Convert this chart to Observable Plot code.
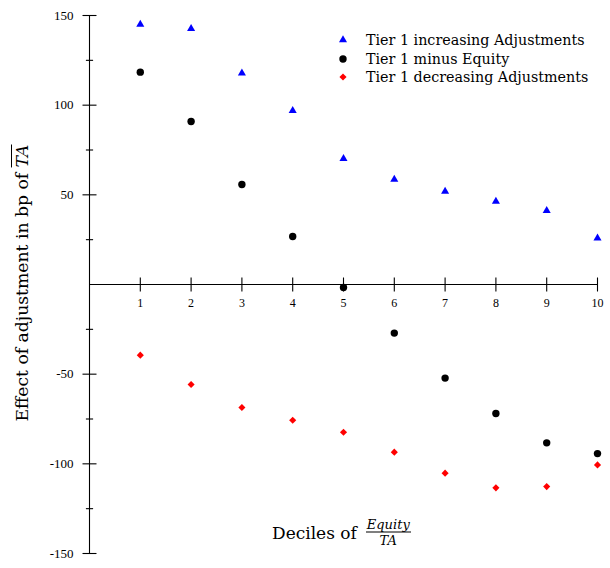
<!DOCTYPE html>
<html><head><meta charset="utf-8">
<script src="https://cdn.jsdelivr.net/npm/d3@7"></script>
<script src="https://cdn.jsdelivr.net/npm/@observablehq/plot@0.6"></script>
<style>
body{margin:0;background:#fff;font-family:"Liberation Serif",serif;color:#000}
#wrap{position:relative;width:610px;height:568px;overflow:hidden}
#wrap svg.plot{position:absolute;left:0;top:0}
.legend{position:absolute;left:335px;top:31px;font-family:"DejaVu Serif",serif;font-size:14.3px;line-height:18.5px}
.legend .row{display:flex;align-items:center;height:18.5px}
.legend svg{width:16px;height:16px;margin-right:15px}
.ylab{position:absolute;left:22px;top:283px;transform:translate(-50%,-50%) rotate(-90deg);white-space:nowrap;font-family:"DejaVu Serif",serif;font-size:17.2px}
.ylab .ov{font-style:italic;text-decoration:overline}
.xlab{position:absolute;left:272px;top:532px;transform:translateY(-50%);display:flex;align-items:center;font-family:"DejaVu Serif",serif;font-size:17px;white-space:nowrap}
.frac{display:inline-flex;flex-direction:column;align-items:center;margin-left:9px;font-style:italic;font-size:13px;line-height:13px}
.frac .num{border-bottom:1px solid #000;padding:0 1px 1px}
.frac .den{padding-top:1px}
</style></head><body><div id="wrap"></div>
<script>
const deciles = [1, 2, 3, 4, 5, 6, 7, 8, 9, 10];
const tier1Increasing = [145.0, 142.6, 117.8, 97.0, 70.1, 58.6, 51.9, 46.3, 41.2, 25.8];
const tier1MinusEquity = [118.4, 90.9, 55.8, 26.8, -1.7, -27.1, -52.2, -71.9, -88.3, -94.3];
const tier1Decreasing = [-39.4, -55.8, -68.6, -75.7, -82.4, -93.5, -105.2, -113.4, -112.7, -100.6];
const seriesNames = ["Tier 1 increasing Adjustments", "Tier 1 minus Equity", "Tier 1 decreasing Adjustments"];
const seriesColors = ["#0000ff", "#000000", "#ff0000"];
const seriesSymbols = ["triangle", "circle", "diamond2"];
const xTickLabels = [1, 2, 3, 4, 5, 6, 7, 8, 9, 10];
const yTickLabels = [-150, -100, -50, 50, 100, 150];
const yMinorTicks = [-125, -75, -25, 25, 75, 125];

const vTick = (len) => ({draw(ctx) { ctx.moveTo(0, -len); ctx.lineTo(0, len); }});
const hTick = (len) => ({draw(ctx) { ctx.moveTo(-len, 0); ctx.lineTo(len, 0); }});

const seriesValues = [tier1Increasing, tier1MinusEquity, tier1Decreasing];
const symbolR = [3, 3.7, 3.2];

const dotMarks = seriesValues.map((vals, s) =>
  Plot.dot(deciles.map((d, i) => ({decile: d, value: vals[i]})), {
    x: "decile", y: "value", symbol: seriesSymbols[s], fill: seriesColors[s], r: symbolR[s]
  })
);

const chart = Plot.plot({
  width: 610, height: 568,
  marginLeft: 89, marginRight: 13, marginTop: 15, marginBottom: 15,
  x: {domain: [0, 10], axis: null},
  y: {domain: [-150, 150], axis: null},
  style: {fontFamily: "Liberation Serif", fontSize: "13px", color: "#000", background: "transparent"},
  marks: [
    Plot.ruleX([0], {stroke: "#000", strokeWidth: 1.1}),
    Plot.ruleY([0], {stroke: "#000", strokeWidth: 1.1}),
    Plot.dot(xTickLabels, {x: d => d, y: 0, symbol: vTick(7), stroke: "#000", fill: "none", strokeWidth: 1.1}),
    Plot.dot(yTickLabels, {x: 0, y: d => d, symbol: hTick(7), stroke: "#000", fill: "none", strokeWidth: 1.1}),
    Plot.dot(yMinorTicks, {x: 0, y: d => d, symbol: hTick(3.6), stroke: "#000", fill: "none", strokeWidth: 1.1}),
    Plot.text(yTickLabels, {x: 0, y: d => d, text: d => String(d), textAnchor: "end", dx: -16, fontSize: 13}),
    Plot.text(xTickLabels, {x: d => d, y: 0, text: d => String(d), dy: 19, fontSize: 12}),
    ...dotMarks
  ]
});
const wrap = document.getElementById("wrap");
wrap.appendChild(chart);

// legend
const legend = document.createElement("div");
legend.className = "legend";
seriesNames.forEach((name, s) => {
  const row = document.createElement("div");
  row.className = "row";
  const sym = d3.create("svg").attr("viewBox", "-8 -8 16 16");
  const size = Math.PI * symbolR[s] * symbolR[s];
  const symType = {triangle: d3.symbolTriangle, circle: d3.symbolCircle, diamond2: d3.symbolDiamond2}[seriesSymbols[s]];
  sym.append("path").attr("d", d3.symbol(symType, size)()).attr("fill", seriesColors[s]);
  row.appendChild(sym.node());
  const t = document.createElement("span");
  t.textContent = name;
  row.appendChild(t);
  legend.appendChild(row);
});
wrap.appendChild(legend);

// y-axis label
const ylab = document.createElement("div");
ylab.className = "ylab";
ylab.innerHTML = 'Effect of adjustment in bp of <span class="ov">TA</span>';
wrap.appendChild(ylab);

// x-axis label
const xlab = document.createElement("div");
xlab.className = "xlab";
xlab.innerHTML = 'Deciles of <span class="frac"><span class="num">Equity</span><span class="den">TA</span></span>';
wrap.appendChild(xlab);
</script>
</body></html>
